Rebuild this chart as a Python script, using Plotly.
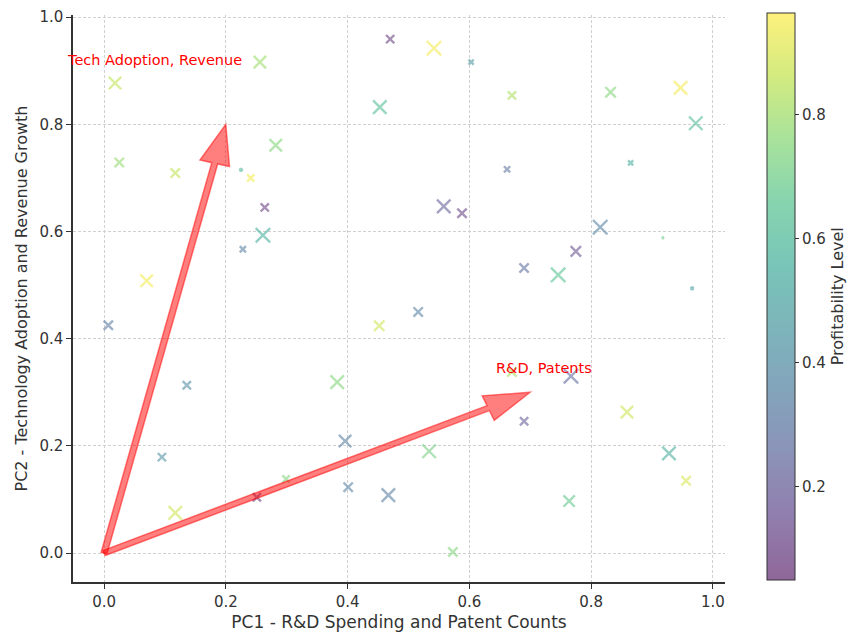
import numpy as np
import plotly.graph_objects as go
import plotly.express as px

# ---- data ----
pc1 = [0.470, 0.542, 0.603, 0.453, 0.670, 0.662, 0.558, 0.588, 0.256, 0.018,
       0.282, 0.025, 0.117, 0.225, 0.241, 0.264, 0.832, 0.947, 0.972, 0.865,
       0.261, 0.228, 0.070, 0.007, 0.136, 0.690, 0.746, 0.516, 0.452, 0.383,
       0.670, 0.815, 0.775, 0.918, 0.966, 0.767, 0.095, 0.117, 0.251, 0.299,
       0.396, 0.401, 0.467, 0.534, 0.573, 0.690, 0.859, 0.928, 0.956, 0.764]
pc2 = [0.959, 0.942, 0.916, 0.832, 0.854, 0.716, 0.647, 0.634, 0.916, 0.877,
       0.761, 0.729, 0.709, 0.715, 0.700, 0.645, 0.860, 0.868, 0.802, 0.728,
       0.593, 0.567, 0.508, 0.425, 0.313, 0.532, 0.519, 0.450, 0.424, 0.319,
       0.338, 0.608, 0.563, 0.588, 0.494, 0.330, 0.179, 0.075, 0.104, 0.138,
       0.209, 0.123, 0.108, 0.190, 0.002, 0.246, 0.263, 0.186, 0.135, 0.097]
profitability = [0.10, 0.95, 0.45, 0.62, 0.82, 0.30, 0.22, 0.12, 0.80, 0.86,
                 0.75, 0.78, 0.86, 0.60, 0.95, 0.10, 0.75, 0.95, 0.62, 0.55,
                 0.55, 0.35, 0.95, 0.32, 0.40, 0.28, 0.65, 0.35, 0.88, 0.75,
                 0.82, 0.35, 0.15, 0.70, 0.50, 0.25, 0.42, 0.88, 0.10, 0.75,
                 0.33, 0.35, 0.33, 0.72, 0.75, 0.20, 0.88, 0.55, 0.90, 0.68]
market_scale = [0.53, 0.93, 0.33, 0.87, 0.53, 0.40, 0.87, 0.60, 0.80, 0.80,
                0.80, 0.60, 0.60, 0.20, 0.47, 0.53, 0.67, 0.87, 0.87, 0.33,
                0.93, 0.40, 0.80, 0.60, 0.53, 0.60, 0.93, 0.60, 0.67, 0.87,
                0.60, 0.93, 0.67, 0.13, 0.20, 0.93, 0.53, 0.87, 0.53, 0.47,
                0.80, 0.60, 0.87, 0.87, 0.60, 0.53, 0.80, 0.87, 0.60, 0.73]

loading_labels = ["R&D, Patents", "Tech Adoption, Revenue"]
loading_x = [0.7, 0.2]
loading_y = [0.3, 0.8]

ticks = [0.0, 0.2, 0.4, 0.6, 0.8, 1.0]
cbar_ticks = [0.2, 0.4, 0.6, 0.8]

# ---- styling ----
W, H = 851, 635
ml, mr, mt, mb = 73, 126, 15, 53
xr = [-0.051, 1.02]
yr = [-0.054, 1.004]
alpha = 0.6
CMIN, CMAX = 0.05, 0.965

def blend(c, a):
    c = c.lstrip('#')
    r, g, b = int(c[0:2], 16), int(c[2:4], 16), int(c[4:6], 16)
    f = lambda v: int(round(v * a + 255 * (1 - a)))
    return f"rgb({f(r)},{f(g)},{f(b)})"

vir = px.colors.sequential.Viridis
cscale = [[i / (len(vir) - 1), blend(c, alpha)] for i, c in enumerate(vir)]
mscale = [[i / (len(vir) - 1), blend(c, 0.68)] for i, c in enumerate(vir)]

fig = go.Figure()
fig.add_trace(go.Scatter(
    x=pc1, y=pc2, mode="markers",
    marker=dict(
        symbol="x-thin",
        size=[15.5 * s for s in market_scale],
        color=profitability,
        colorscale=cscale,
        cmin=CMIN, cmax=CMAX,
        line=dict(width=2.4, color=profitability, colorscale=mscale, cmin=CMIN, cmax=CMAX),
        colorbar=dict(
            title=dict(text="Profitability Level", side="right",
                       font=dict(family="DejaVu Sans", size=16, color="#333")),
            tickvals=cbar_ticks, ticktext=[f"{t:.1f}" for t in cbar_ticks],
            ticks="outside", ticklen=4, tickcolor="#333",
            tickfont=dict(family="DejaVu Sans", size=15, color="#333"),
            thickness=28, thicknessmode="pixels",
            lenmode="pixels", len=567,
            x=(767 - ml) / (W - ml - mr), xanchor="left", xpad=0,
            y=1.004, yanchor="top", ypad=0,
            outlinewidth=1, outlinecolor="#333",
        ),
    ),
    showlegend=False, hoverinfo="x+y",
))

# arrow polygons, matplotlib FancyArrow-like (length includes head)
width, head_w, head_l = 0.01, 0.05, 0.075
for vx, vy, lab in zip(loading_x, loading_y, loading_labels):
    L = np.hypot(vx, vy)
    ux, uy = vx / L, vy / L
    px_, py_ = -uy, ux
    local = [(0, width / 2), (L - head_l, width / 2), (L - head_l, head_w / 2), (L, 0),
             (L - head_l, -head_w / 2), (L - head_l, -width / 2), (0, -width / 2)]
    pts = [(a * ux + b * px_, a * uy + b * py_) for a, b in local]
    path = "M " + " L ".join(f"{x:.5f},{y:.5f}" for x, y in pts) + " Z"
    fig.add_shape(type="path", path=path, xref="x", yref="y",
                  fillcolor="rgba(255,0,0,0.5)",
                  line=dict(color="rgba(255,0,0,0.5)", width=1.5))
    fig.add_annotation(x=vx * 1.15, y=vy * 1.15, text=lab, showarrow=False,
                       xanchor="right", yanchor="middle",
                       font=dict(family="DejaVu Sans", size=14.5, color="red"))

axis_common = dict(
    showgrid=True, gridcolor="#d0d0d0", griddash="3px,2px", gridwidth=1,
    showline=True, linecolor="#333333", linewidth=1.5, mirror=False,
    ticks="outside", ticklen=5, tickcolor="#333333",
    tickfont=dict(family="DejaVu Sans", size=15, color="#333"),
    zeroline=False, tickvals=ticks, ticktext=[f"{t:.1f}" for t in ticks],
)
fig.update_xaxes(range=xr, title=dict(text="PC1 - R&D Spending and Patent Counts",
                 font=dict(family="DejaVu Sans", size=17, color="#333"), standoff=6),
                 **axis_common)
fig.update_yaxes(range=yr, title=dict(text="PC2 - Technology Adoption and Revenue Growth",
                 font=dict(family="DejaVu Sans", size=16, color="#333"), standoff=8),
                 **axis_common)

fig.update_layout(
    width=W, height=H,
    margin=dict(l=ml, r=mr, t=mt, b=mb, autoexpand=False),
    paper_bgcolor="white", plot_bgcolor="white",
    font=dict(family="DejaVu Sans"),
)
fig.write_html("out.html")
